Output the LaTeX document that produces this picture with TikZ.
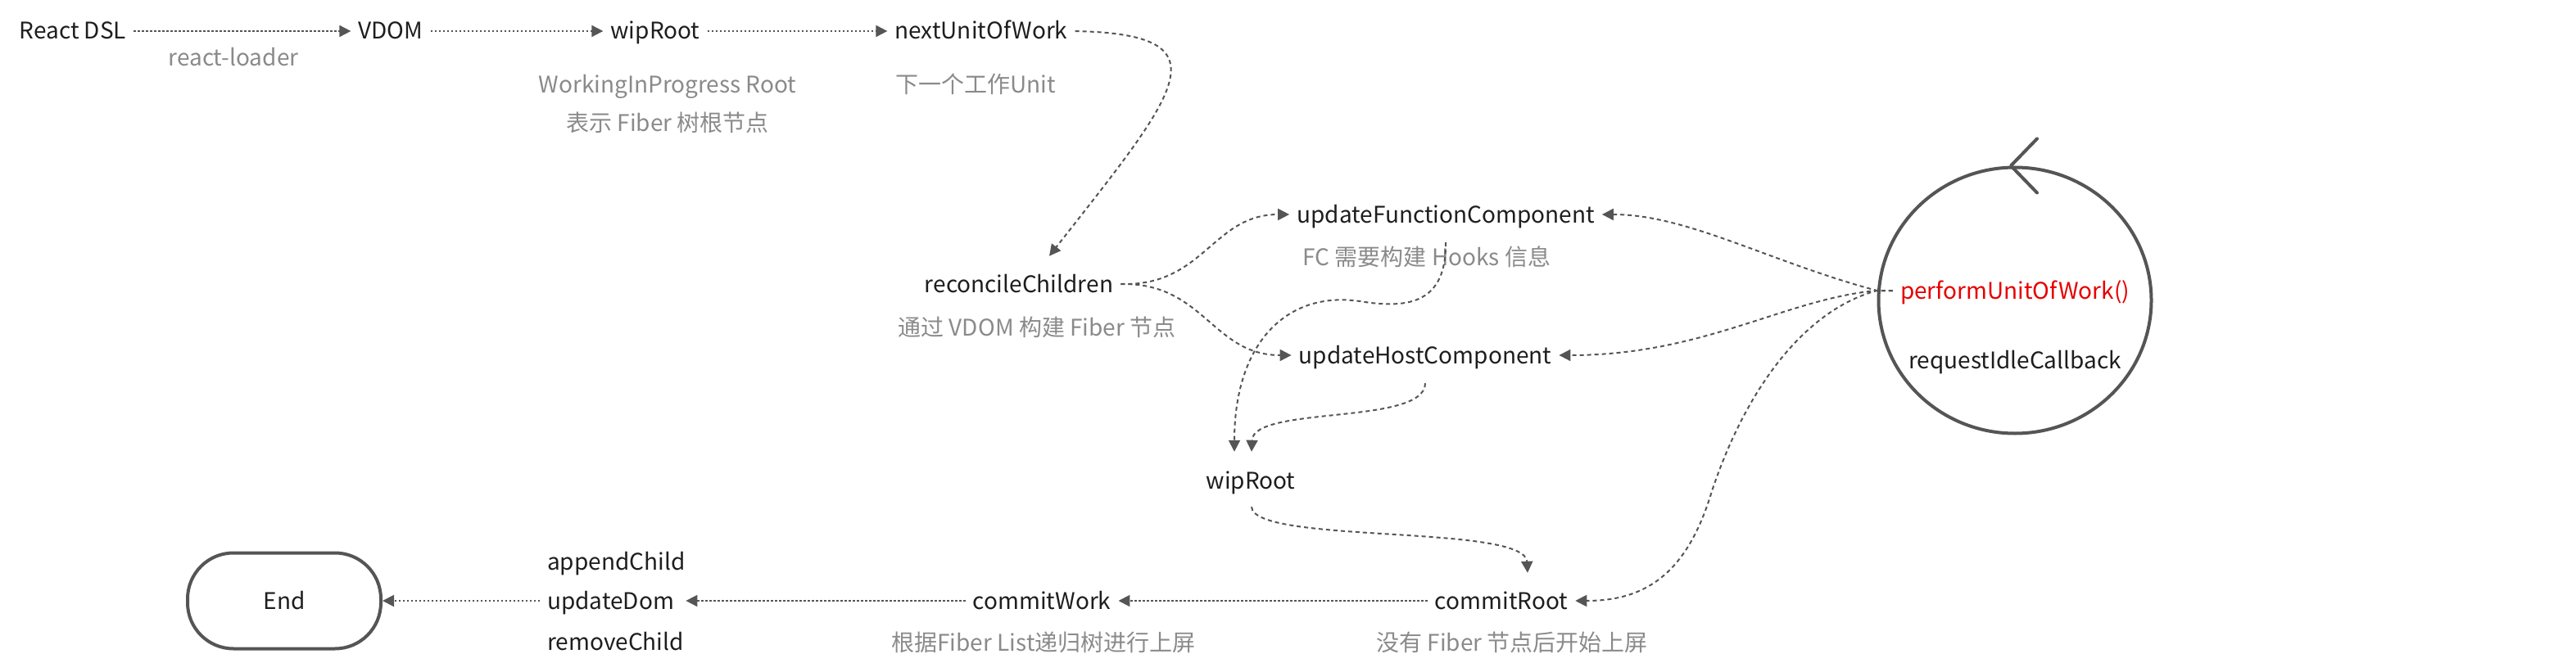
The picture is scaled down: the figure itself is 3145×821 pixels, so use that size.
\documentclass[tikz,border=0pt]{standalone}
\usepackage{fontspec}
\setmainfont{Noto Sans CJK SC}
\usetikzlibrary{arrows.meta,shapes.geometric,calc}
\definecolor{txt}{HTML}{1E1E1E}
\definecolor{gry}{HTML}{8A8A8A}
\definecolor{ln}{HTML}{555555}
\definecolor{rd}{HTML}{E60000}
\begin{document}
\begin{tikzpicture}[x=1pt,y=-1pt,
  every node/.style={font=\fontsize{28pt}{34pt}\selectfont, text=txt, inner xsep=9pt, inner ysep=4pt, text height=20pt, text depth=0pt},
  lbl/.style={text=gry},
  col/.style={anchor=west, text width=160pt, align=left},
  flow/.style={draw=ln, line width=2pt, dash pattern=on 2.5pt off 2.5pt, -{Triangle[length=14pt,width=14pt]}},
  cflow/.style={draw=ln, line width=2pt, dash pattern=on 5pt off 4pt, -{Triangle[length=14pt,width=14pt]}},
]
\useasboundingbox (0,0) rectangle (3145,821);

% top row
\node (dsl) at (89,38) {React DSL};
\node (vdom) at (477,38) {VDOM};
\node (wipa) at (800,38) {wipRoot};
\node (next) at (1198,38) {nextUnitOfWork};
\node[lbl] (loader) at (285,71) {react-loader};
\node[lbl] (wipd1) at (815,104) {WorkingInProgress Root};
\node[lbl] (wipd2) at (815,151) {表示 Fiber 树根节点};
\node[lbl] (nextd) at (1191,104) {下一个工作Unit};

% middle
\node (rc) at (1244,347) {reconcileChildren};
\node[lbl] (rcd) at (1266,400) {通过 VDOM 构建 Fiber 节点};
\node (ufc) at (1765,262) {updateFunctionComponent};
\node[lbl] (fcd) at (1742,314) {FC 需要构建 Hooks 信息};
\node (uhc) at (1740,434) {updateHostComponent};
\node (wipb) at (1527,587) {wipRoot};

% circle
\node[draw=ln, line width=4pt, ellipse, minimum width=333pt, minimum height=325pt, inner sep=0pt] (circ) at (2460,367) {};
\node[text=rd] (perf) at (2460,355) {performUnitOfWork()};
\node (ric) at (2460,440) {requestIdleCallback};
\draw[ln, line width=4pt, line cap=round, line join=round] ($(circ.north)+(27,-33)$) -- ($(circ.north)+(-5,0)$) -- ($(circ.north)+(27,33)$);

% bottom row
\node (cr) at (1833,734) {commitRoot};
\node[lbl] (crd) at (1846,785) {没有 Fiber 节点后开始上屏};
\node (cw) at (1272,734) {commitWork};
\node[lbl] (cwd) at (1274,785) {根据Fiber List递归树进行上屏};
\node[col] (ac) at (659,686) {appendChild};
\node[col] (ud) at (659,734) {updateDom};
\node[col] (rmc) at (659,784) {removeChild};
\node[draw=ln, line width=4pt, rounded corners=56pt, minimum width=236pt, minimum height=117pt] (end) at (347,734) {End};

% connectors top
\draw[flow] (dsl.east) -- (vdom.west);
\draw[flow] (vdom.east) -- (wipa.west);
\draw[flow] (wipa.east) -- (next.west);
\draw[cflow] (next.east) .. controls (1500,42) and (1440,110) .. ($(rc.north)+(37,-20)$);

% reconcile fan
\draw[cflow] (rc.east) .. controls (1470,350) and (1480,262) .. (ufc.west);
\draw[cflow] (rc.east) .. controls (1470,345) and (1480,434) .. (uhc.west);

% from performUnitOfWork
\coordinate (cj) at (circ.west |- perf.west);
\draw[cflow] (perf.west) -- (cj) .. controls (2160,320) and (2060,262) .. (ufc.east);
\draw[cflow] (perf.west) -- (cj) .. controls (2180,365) and (2080,434) .. (uhc.east);
\draw[cflow] (perf.west) -- (cj) .. controls (2200,380) and (2130,480) .. (2090,600) .. controls (2060,700) and (2010,734) .. (cr.east);

% to wipRoot and commitRoot
\draw[cflow] ($(ufc.south)+(0,20)$) .. controls (1766,370) and (1720,378) .. (1660,368) .. controls (1570,355) and (1507,420) .. ($(wipb.north)+(-20,-21)$);
\draw[cflow] ($(uhc.south)+(0,20)$) .. controls (1740,520) and (1530,495) .. ($(wipb.north)+(1,-21)$);
\draw[cflow] ($(wipb.south)+(1,18)$) .. controls (1530,665) and (1862,640) .. ($(cr.north)+(32,-20)$);

% bottom connectors
\draw[flow] (cr.west) -- (cw.east);
\draw[flow] (cw.west) -- (ud.east);
\draw[flow] (ud.west) -- (end.east);
\end{tikzpicture}
\end{document}
